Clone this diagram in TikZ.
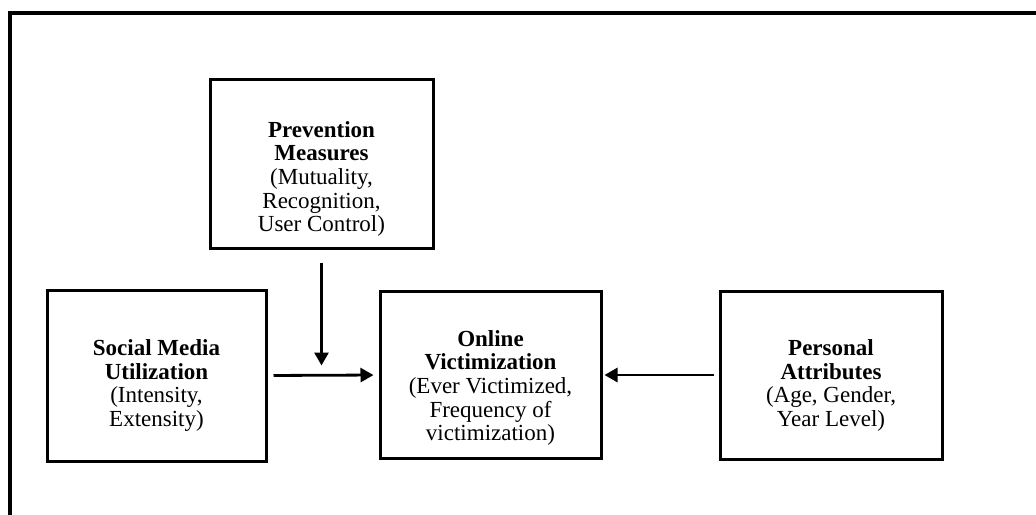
\documentclass[tikz,border=0pt]{standalone}
\usepackage{fontspec}
\setmainfont{Liberation Serif}
\usetikzlibrary{arrows.meta}
\begin{document}
\begin{tikzpicture}[x=1pt,y=-1pt,
  box/.style={draw=black,line width=3pt,inner sep=0pt},
  label/.style={align=center,inner sep=0pt,font=\fontsize{23}{23.6}\selectfont},
  conn/.style={line width=2.8pt,-{Triangle[length=13pt,width=14pt]}},
  frame/.style={line width=3.5pt}]
\useasboundingbox (0,0) rectangle (1036,514);
\clip (0,0) rectangle (1036,514);
\fill[white] (0,0) rectangle (1036,514);
% frame (only top and left edges visible)
\coordinate (fbl) at (10,530);
\coordinate (ftl) at (10,13);
\coordinate (ftr) at (1050,13);
\draw[frame] (fbl) -- (ftl) -- (ftr);
% boxes
\node[box,minimum width=223pt,minimum height=169pt] (pm) at (321.5,163.5) {};
\node[box,minimum width=219pt,minimum height=171pt] (sm) at (156.5,375.5) {};
\node[box,minimum width=221pt,minimum height=167pt] (ov) at (490.5,375) {};
\node[box,minimum width=222pt,minimum height=168pt] (pa) at (831,375) {};
% texts
\node[label] (pmt) at (321.5,179) {\textbf{Prevention}\\\textbf{Measures}\\(Mutuality,\\Recognition,\\User Control)};
\node[label] (smt) at (156.5,385.5) {\textbf{Social Media}\\\textbf{Utilization}\\(Intensity,\\Extensity)};
\node[label] (ovt) at (490.5,388) {\textbf{Online}\\\textbf{Victimization}\\(Ever Victimized,\\Frequency of\\victimization)};
\node[label] (pat) at (831,385.5) {\textbf{Personal}\\\textbf{Attributes}\\(Age, Gender,\\Year Level)};
% connectors
\coordinate (mid) at (pm.south |- sm.east);
\draw[conn,shorten <=6pt,shorten >=5pt] (sm.east) -- (ov.west);
\draw[conn,shorten <=13pt,shorten >=10pt] (pm.south) -- (mid);
\draw[conn,shorten <=5pt,shorten >=2pt] (pa.west) -- (ov.east);
\end{tikzpicture}
\end{document}
